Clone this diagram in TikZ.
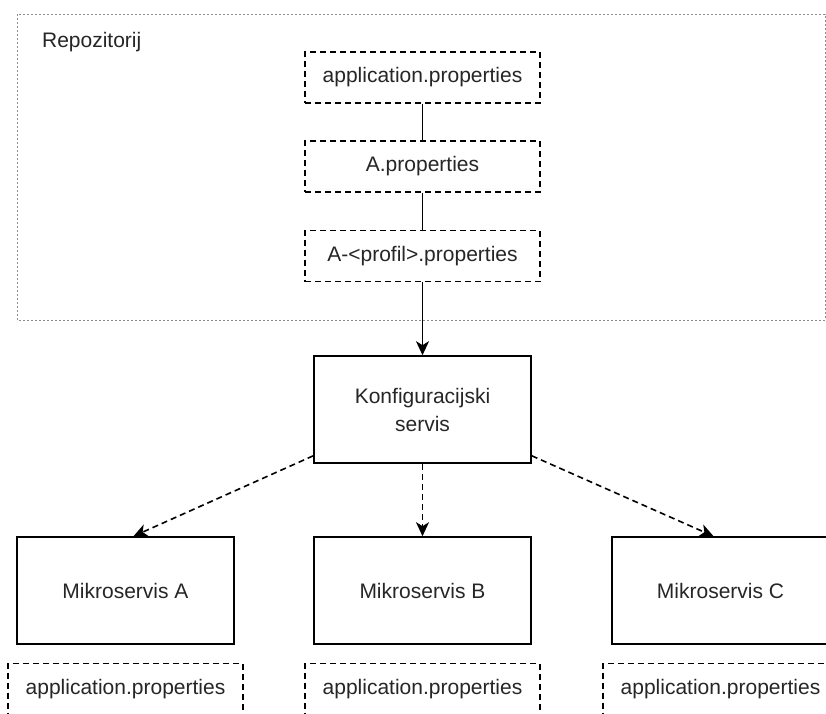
\documentclass[tikz,border=0pt]{standalone}
\usepackage{fontspec}
\setmainfont{Liberation Sans}
\usepackage{tikz}
\usetikzlibrary{arrows.meta}

\begin{document}
\begin{tikzpicture}[x=1pt,y=-1pt,line width=1.6pt,
    font=\fontsize{21}{28}\selectfont,text=black!85,
    kutija/.style={draw,minimum width=217pt,minimum height=107pt,inner sep=0pt,align=center},
    datoteka/.style={draw,dash pattern=on 6pt off 4pt,minimum width=235pt,minimum height=51pt,inner sep=0pt},
    crtkano/.style={dash pattern=on 6pt off 4pt},
    strelica/.style={-{Stealth[length=14pt,width=13pt,inset=4pt]}}]
    \clip(0,0)rectangle(826,713);
    \fill[white](0,0)rectangle(826,713);
    \draw[black!45,line width=1pt,dash pattern=on 2pt off 2pt](17,14)rectangle(825,320);
    \node[anchor=west](repo)at(38,42){Repozitorij};
    \node[datoteka](p1)at(422.5,77.5){application.properties};
    \node[datoteka](p2)at(422.5,166.5){A.properties};
    \node[datoteka](p3)at(422.5,256){A-<profil>.properties};
    \draw(p1)--(p2);\draw(p2)--(p3);
    \node[kutija](konf)at(422.5,409.5){Konfiguracijski\\servis};
    \draw[strelica](p3)--(konf);
    \foreach\s/\x in{A/125.5,B/422.5,C/720.5}{
        \node[kutija](ms\s)at(\x,590.5){Mikroservis \s};
        \node[datoteka](ap\s)at(\x,689){application.properties};};
    \draw[strelica,crtkano]([yshift=8pt]konf.south west)--([xshift=8pt]msA.north);
    \draw[strelica,crtkano](konf)--(msB);
    \draw[strelica,crtkano]([yshift=8pt]konf.south east)--([xshift=-7pt]msC.north);
\end{tikzpicture}
\end{document}
